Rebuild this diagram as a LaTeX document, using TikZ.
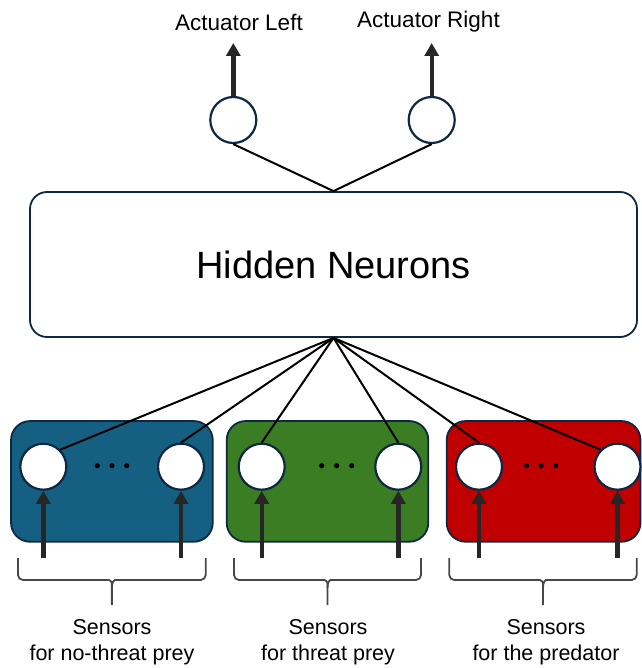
\documentclass[tikz,border=0pt]{standalone}
\usepackage{fontspec}
\setmainfont{Liberation Sans}
\usetikzlibrary{arrows.meta,positioning}
\definecolor{boxBlue}{HTML}{156082}
\definecolor{boxGreen}{HTML}{3B7D23}
\definecolor{boxRed}{HTML}{C00000}
\definecolor{rimNavy}{HTML}{0E2841}
\definecolor{arrowGray}{HTML}{262626}

\begin{document}
\begin{tikzpicture}[x=1pt, y=-1pt,
    neuron/.style={circle, draw=rimNavy, line width=2.2pt, fill=white, minimum size=46pt, inner sep=0pt},
    group/.style={draw=rimNavy, line width=1.8pt, rounded corners=19pt, minimum height=120.7pt, inner sep=0pt},
    feed/.style={-{Triangle[width=14pt,length=13pt]}, line width=4.4pt, color=arrowGray},
    wire/.style={line width=2pt, black},
    bracket/.style={line width=1.8pt, draw=black!72, rounded corners=5pt},
    label/.style={font=\fontsize{22.5}{26}\selectfont},
    caption/.style={font=\fontsize{21.5}{26.5}\selectfont, align=center}
]
                \useasboundingbox (0,0) rectangle (641,668);

                % hidden layer
                \node[draw=rimNavy, line width=1.8pt, rounded corners=17pt, minimum width=607pt, minimum height=145pt,
                      font=\fontsize{38}{42}\selectfont] (hidden) at (333.5,264.5) {Hidden Neurons};

                % actuators
                \node[neuron] (actL) at (233.3,120) {};
                \node[neuron] (actR) at (431.7,120) {};
                \coordinate (actLout) at (233.3,43);
                \coordinate (actRout) at (431.7,43);
                \node[label] (actLtxt) at (239,22) {Actuator Left};
                \node[label] (actRtxt) at (428.5,22) {Actuator Right};

                % sensor groups
                \node[group, fill=boxBlue, minimum width=201.7pt] (ntbox) at (111.9,481.4) {};
                \node[group, fill=boxGreen, minimum width=201.6pt] (tpbox) at (327.5,481.4) {};
                \node[group, fill=boxRed, minimum width=193.8pt] (prbox) at (543.6,481.4) {};

                \node[neuron] (nt1) at (43.3,466.7) {};
                \node[neuron] (nt2) at (181,466.7) {};
                \node[neuron] (tp1) at (261.7,466.7) {};
                \node[neuron] (tp2) at (398.3,466.7) {};
                \node[neuron] (pr1) at (479,466.7) {};
                \node[neuron] (pr2) at (617.5,466.7) {};

                \foreach \x in {97.3,112,126.7, 321.7,336.7,351.7, 526.7,541,555.7}
                    \fill[black] (\x,465.7) circle (2.6pt);

                \foreach \n/\x in {nt1/43.3, nt2/181, tp1/261.7, tp2/398.3, pr1/479, pr2/617.5}
                    \coordinate (\n in) at (\x,558);

                % brackets
                \foreach \l/\r in {18/205.7, 234/421, 449.3/636.7}{
                    \pgfmathsetmacro{\c}{(\l+\r)/2}
                    \draw[bracket] (\l,558) -- (\l,580) -- (\c-8,580) .. controls (\c-2,580) and (\c,582) .. (\c,588) -- (\c,605);
                    \draw[bracket] (\r,558) -- (\r,580) -- (\c+8,580) .. controls (\c+2,580) and (\c,582) .. (\c,588);
                }

                \node[caption] (ntcap) at (112,642) {Sensors\\for no-threat prey};
                \node[caption] (tpcap) at (328,642) {Sensors\\for threat prey};
                \node[caption] (prcap) at (546,642) {Sensors\\for the predator};

                \path[wire]
                    (actL.south) edge (hidden.north)
                    (actR.south) edge (hidden.north)
                    (hidden.south) edge (nt1.north east)
                    (hidden.south) edge (nt2.north)
                    (hidden.south) edge (tp1.north)
                    (hidden.south) edge (tp2.north)
                    (hidden.south) edge (pr1.north)
                    (hidden.south) edge (pr2.north west)
                ;

                \draw[feed] (actL) -- (actLout);
                \draw[feed] (actR) -- (actRout);
                \foreach \n in {nt1,nt2,tp1,tp2,pr1,pr2}
                    \draw[feed] (\n in) -- (\n);
            \end{tikzpicture}
\end{document}
